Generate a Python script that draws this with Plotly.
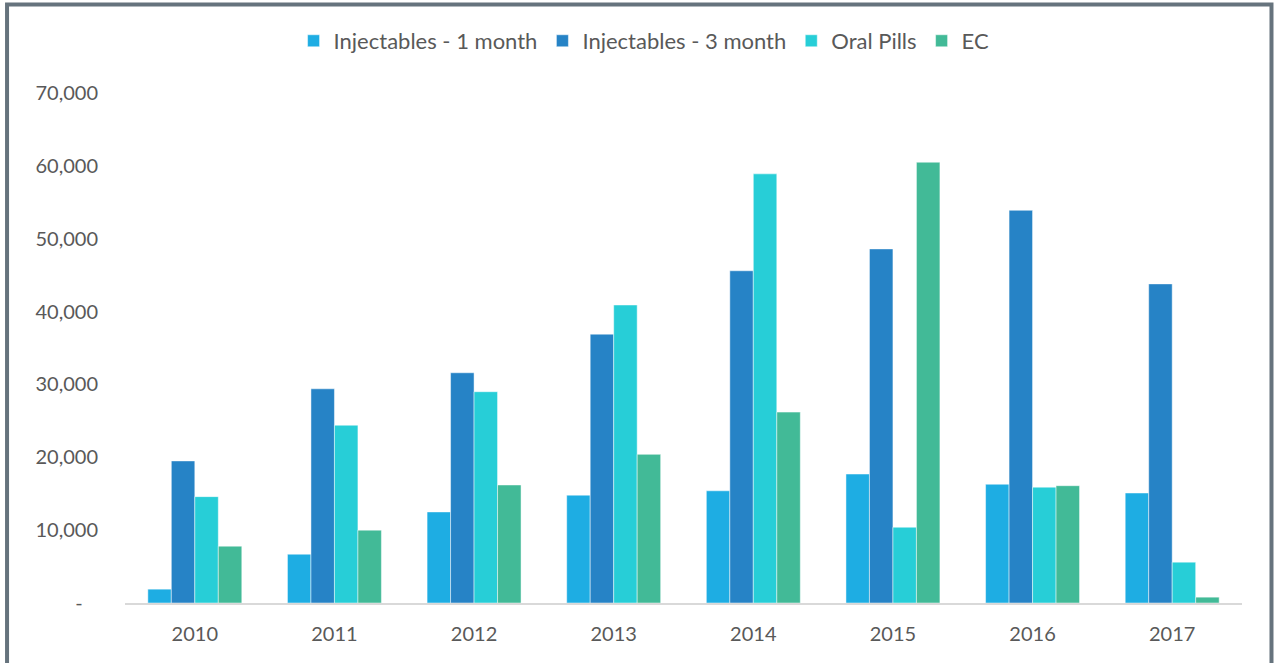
import plotly.graph_objects as go

years = ["2010", "2011", "2012", "2013", "2014", "2015", "2016", "2017"]
inj_1m = [1900, 6700, 12500, 14800, 15400, 17700, 16300, 15100]
inj_3m = [19500, 29400, 31600, 36900, 45600, 48600, 53900, 43800]
oral_pills = [14600, 24400, 29000, 40900, 58900, 10400, 15900, 5600]
ec = [7800, 10000, 16200, 20400, 26200, 60500, 16100, 800]

series = [
    ("Injectables - 1 month", inj_1m, "#1EADE3"),
    ("Injectables - 3 month", inj_3m, "#2683C6"),
    ("Oral Pills", oral_pills, "#27CED7"),
    ("EC", ec, "#42BA97"),
]

tick_vals = [0, 10000, 20000, 30000, 40000, 50000, 60000, 70000]
tick_text = ["-   ", "10,000", "20,000", "30,000", "40,000", "50,000", "60,000", "70,000"]

fig = go.Figure()
for name, vals, col in series:
    fig.add_trace(go.Bar(name=name, x=years, y=vals,
                         marker=dict(color=col, line=dict(color="rgba(255,255,255,0.6)", width=0.8))))

FONT = "Lato"
fig.update_layout(
    width=1274, height=663,
    margin=dict(l=125, r=32, t=93, b=60),
    paper_bgcolor="white", plot_bgcolor="white",
    barmode="group", bargap=0.327, bargroupgap=0,
    font=dict(family=FONT, size=20, color="#595959"),
    showlegend=True,
    legend=dict(orientation="h", x=0.4647, xanchor="center", y=1.102, yanchor="middle",
                font=dict(size=22, color="#595959"), itemwidth=30, tracegroupgap=0),
    xaxis=dict(showgrid=False, showline=True, linecolor="#d9d9d9", linewidth=1.5,
               ticks="", ticklabelstandoff=12, tickfont=dict(size=20, color="#595959")),
    yaxis=dict(range=[0, 70000], showgrid=False, showline=False, zeroline=False,
               tickvals=tick_vals, ticktext=tick_text, ticks="", ticklabelstandoff=26,
               tickfont=dict(size=20, color="#595959")),
    shapes=[dict(type="rect", xref="paper", yref="paper",
                 x0=-0.1056, x1=1.0264, y0=-0.13, y1=1.1735,
                 line=dict(color="#66737d", width=4), fillcolor="rgba(0,0,0,0)", layer="above")],
)

fig.write_html("out.html", config={"displayModeBar": False},
               post_script="document.body.style.margin='0';document.body.style.overflow='hidden';")
